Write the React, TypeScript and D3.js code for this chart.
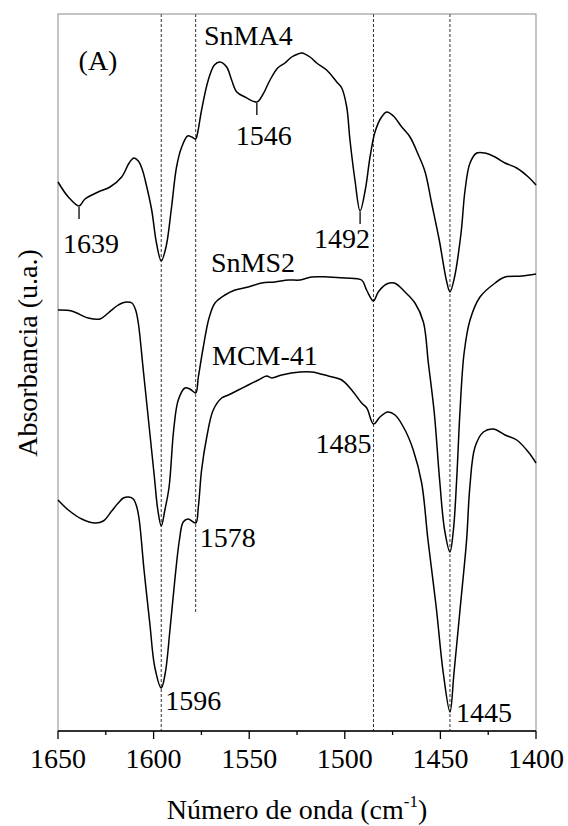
import React from "react";
import * as d3 from "d3";

// FTIR spectra of adsorbed pyridine, 1650–1400 cm-1 (absorbance in arbitrary units, stacked)
const wavenumbersSnMA4 = [
  1650, 1644.6, 1639, 1635.9, 1629, 1622.8, 1616.7, 1612.8, 1610.3, 1608, 1606, 1604.3, 1601,
  1598.5, 1596, 1593.5, 1590.6, 1588, 1585.3, 1582.2, 1580, 1578, 1577, 1574.9, 1571.4, 1568.2,
  1565.3, 1561.8, 1559.2, 1556.5, 1552.2, 1546, 1543, 1539.1, 1535.1, 1531.3, 1527.8, 1524.5,
  1522.5, 1518.2, 1514.7, 1509.5, 1504.2, 1501.6, 1499, 1497.3, 1494.7, 1492, 1489.3, 1486.8,
  1484.2, 1481.1, 1478.1, 1474.6, 1470.2, 1465.9, 1461.5, 1458, 1454.6, 1450.6, 1446.9, 1445,
  1442.6, 1439.2, 1437.1, 1434.5, 1431, 1426.7, 1421.4, 1416.2, 1410.1, 1404, 1400,
];
const absorbSnMA4 = [
  549, 534, 525, 532, 539, 544, 554, 568, 573, 570, 562, 550, 521,
  488, 470, 484, 524, 564, 584, 595, 594, 592, 598, 621, 651, 666,
  669, 664, 651, 639, 634, 629, 636, 651, 663, 668, 674, 677,
  678, 674, 668, 661, 649, 643, 624, 591, 551, 520, 541, 574,
  599, 613, 619, 615, 604, 594, 576, 559, 528, 491, 451, 439,
  454, 498, 541, 568, 578, 578, 574, 568, 563, 554, 546,
];

const wavenumbersSnMS2 = [
  1650, 1642.9, 1634.2, 1628, 1623.7, 1619.3, 1616.4, 1613.8, 1611.3, 1609.4, 1608, 1605.4,
  1602.3, 1599.6, 1597.8, 1596, 1594.1, 1591.9, 1589.5, 1587.1, 1583.6, 1581, 1578, 1576.6,
  1574, 1571, 1567.9, 1562.7, 1557.4, 1550.5, 1543.5, 1536.5, 1529.5, 1523.4, 1517.3, 1508.6,
  1499.9, 1491.2, 1488.6, 1485, 1482.5, 1478.1, 1474.1, 1468.5, 1463.3, 1458.9, 1456.3, 1453.2,
  1450.4, 1447.8, 1445, 1443.2, 1441.5, 1439.8, 1437.6, 1434.5, 1429.3, 1421.4, 1416.2, 1407.5,
  1400,
];
const absorbSnMS2 = [
  421, 420, 413, 412, 418, 425, 428, 429, 428, 421, 408, 361,
  304, 254, 221, 205, 221, 244, 301, 331, 343, 342, 338, 354,
  384, 413, 428, 436, 441, 444, 448, 449, 451, 451, 454, 454,
  453, 451, 441, 430, 439, 447, 448, 439, 428, 409, 368, 318,
  251, 201, 179, 201, 251, 318, 378, 411, 434, 448, 454, 455,
  457,
];

const wavenumbersMCM41 = [
  1650, 1644.6, 1637.6, 1630.6, 1626.3, 1621.9, 1618.5, 1615.8, 1613, 1610.6, 1608.8, 1607.5,
  1605, 1602, 1599.4, 1596, 1593.9, 1591.3, 1588.9, 1586.5, 1584.5, 1581.9, 1578, 1576.6,
  1574.9, 1572.2, 1568.8, 1564.4, 1560.9, 1555.7, 1550.5, 1545.2, 1540.9, 1538.2, 1533, 1523.4,
  1517.3, 1508.6, 1501.6, 1496.4, 1491.2, 1488.5, 1485, 1481.6, 1477.6, 1473.7, 1468.5, 1464.2,
  1459.8, 1456.5, 1452.2, 1448.5, 1445, 1442.9, 1439.6, 1436.3, 1434.6, 1431.9, 1427.5, 1422.3,
  1416.2, 1410.1, 1404, 1400,
];
const absorbMCM41 = [
  231, 221, 212, 208, 210, 220, 228, 233, 234, 232, 224, 211,
  161, 108, 64, 43, 58, 104, 151, 191, 209, 212, 208, 224,
  261, 294, 321, 333, 336, 341, 346, 351, 355, 353, 356, 359,
  359, 355, 351, 341, 328, 323, 307, 314, 319, 316, 301, 281,
  248, 191, 124, 58, 19, 58, 124, 191, 244, 284, 299, 302,
  296, 291, 279, 268,
];

const xTicks = [1650, 1600, 1550, 1500, 1450, 1400];
const xMinorTicks = [1625, 1575, 1525, 1475, 1425];

// Reference bands marked with dashed guides
const bandLines = [1596, 1578, 1485, 1445];
const bandLineEnds = [0, 117, 0, 0]; // lower end in a.u. (0 = down to the axis)

const sampleNames = ["SnMA4", "SnMS2", "MCM-41"];

const W = 568;
const H = 826;
const margin = { left: 58, right: 32, top: 14, bottom: 95 };
const FONT = "'Liberation Serif', 'Times New Roman', serif";

export default function App() {
  const x = d3
    .scaleLinear()
    .domain([1650, 1400])
    .range([margin.left, W - margin.right]);
  const y = d3
    .scaleLinear()
    .domain([0, 717])
    .range([H - margin.bottom, margin.top]);

  const line = d3
    .line<[number, number]>()
    .x((d) => x(d[0]))
    .y((d) => y(d[1]))
    .curve(d3.curveCatmullRom.alpha(0.5));

  const series = [
    { w: wavenumbersSnMA4, a: absorbSnMA4 },
    { w: wavenumbersSnMS2, a: absorbSnMS2 },
    { w: wavenumbersMCM41, a: absorbMCM41 },
  ];

  const valueAt = (s: { w: number[]; a: number[] }, wn: number) => {
    const i = s.w.indexOf(wn);
    return s.a[i];
  };

  const y0 = y.range()[0];
  const y1 = y.range()[1];
  const x0 = x.range()[0];
  const x1 = x.range()[1];

  // Minimum markers on the SnMA4 trace
  const markedMinima = [1639, 1546, 1492];

  return (
    <svg
      width={W}
      height={H}
      style={{ position: "absolute", left: 0, top: 0, background: "#fff" }}
      fontFamily={FONT}
    >
      <rect x={0} y={0} width={W} height={H} fill="#fff" />

      {/* dashed guides */}
      {bandLines.map((b, i) => (
        <line
          key={b}
          x1={x(b)}
          x2={x(b)}
          y1={y1}
          y2={bandLineEnds[i] ? y(bandLineEnds[i]) : y0}
          stroke="#333"
          strokeWidth={1}
          strokeDasharray="3,2"
        />
      ))}

      {/* frame */}
      <rect
        x={x0}
        y={y1}
        width={x1 - x0}
        height={y0 - y1}
        fill="none"
        stroke="#8a8a8a"
        strokeWidth={1}
      />

      {/* spectra */}
      {series.map((s, i) => (
        <path
          key={i}
          d={line(s.w.map((w, j) => [w, s.a[j]] as [number, number])) || ""}
          fill="none"
          stroke="#000"
          strokeWidth={1.5}
          strokeLinejoin="round"
        />
      ))}

      {/* minimum markers */}
      {markedMinima.map((m) => {
        const py = y(valueAt(series[0], m));
        return (
          <line
            key={m}
            x1={x(m)}
            x2={x(m)}
            y1={py + 1}
            y2={py + 13}
            stroke="#000"
            strokeWidth={1.3}
          />
        );
      })}

      {/* bottom axis */}
      <line x1={x0} x2={x1} y1={y0} y2={y0} stroke="#000" strokeWidth={1.5} />
      {xTicks.map((t) => (
        <g key={t}>
          <line x1={x(t)} x2={x(t)} y1={y0} y2={y0 + 8} stroke="#000" strokeWidth={1.3} />
          <text x={x(t)} y={768} textAnchor="middle" fontSize={28} fill="#000">
            {t}
          </text>
        </g>
      ))}
      {xMinorTicks.map((t) => (
        <line key={t} x1={x(t)} x2={x(t)} y1={y0} y2={y0 + 4} stroke="#000" strokeWidth={1.3} />
      ))}

      {/* axis titles */}
      <text x={297} y={819} textAnchor="middle" fontSize={28} fill="#000">
        Número de onda (cm
        <tspan fontSize={17} dy={-12}>
          -1
        </tspan>
        <tspan dy={12}>)</tspan>
      </text>
      <text
        transform="translate(37,353) rotate(-90)"
        textAnchor="middle"
        fontSize={28}
        fill="#000"
      >
        Absorbancia (u.a.)
      </text>

      {/* panel and sample labels */}
      <text x={98} y={70} textAnchor="middle" fontSize={28} fill="#000">
        (A)
      </text>
      <text x={204} y={45} fontSize={28} fill="#000">
        {sampleNames[0]}
      </text>
      <text x={211} y={272} fontSize={28} fill="#000">
        {sampleNames[1]}
      </text>
      <text x={212} y={365} fontSize={28} fill="#000">
        {sampleNames[2]}
      </text>

      {/* band labels */}
      <text x={x(1639) + 12} y={253} textAnchor="middle" fontSize={28} fill="#000">
        1639
      </text>
      <text x={x(1546) + 7} y={145} textAnchor="middle" fontSize={28} fill="#000">
        1546
      </text>
      <text x={x(1492) - 18} y={248} textAnchor="middle" fontSize={28} fill="#000">
        1492
      </text>
      <text x={x(1485) - 2} y={453} textAnchor="end" fontSize={28} fill="#000">
        1485
      </text>
      <text x={x(1578) + 4} y={547} fontSize={28} fill="#000">
        1578
      </text>
      <text x={x(1596) + 4} y={710} fontSize={28} fill="#000">
        1596
      </text>
      <text x={x(1445) + 6} y={722} fontSize={28} fill="#000">
        1445
      </text>
    </svg>
  );
}
